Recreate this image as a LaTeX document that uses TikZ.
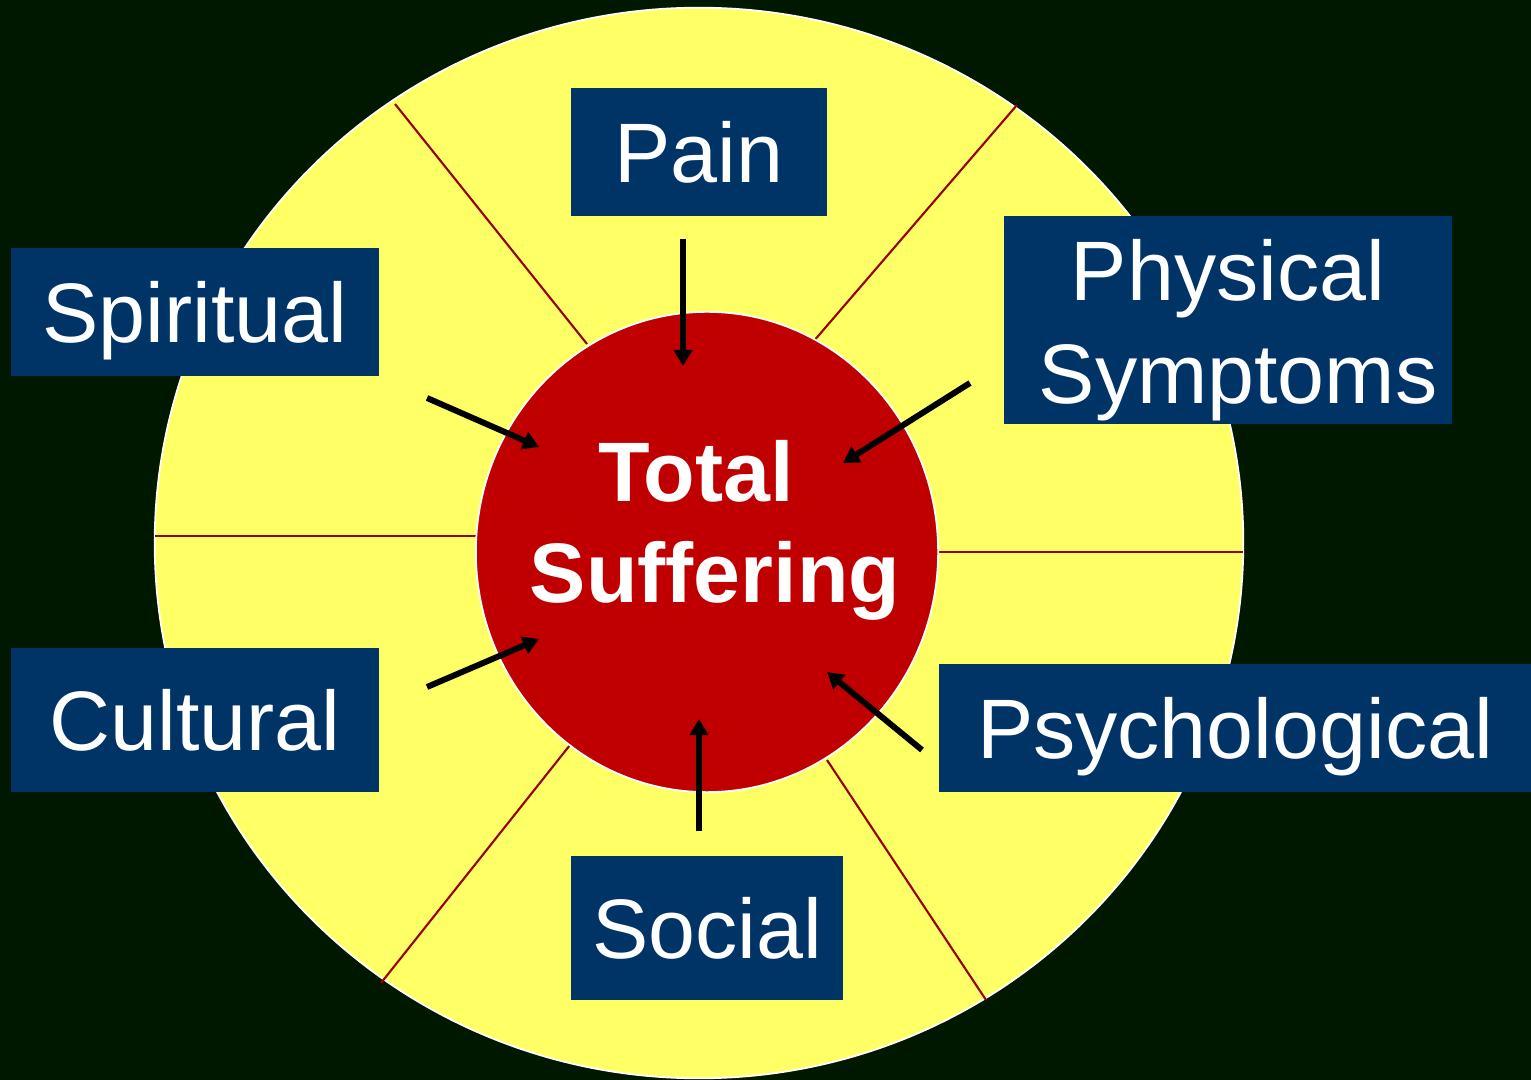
\documentclass[tikz,border=0pt]{standalone}
\usepackage{fontspec}
\setmainfont{Liberation Sans}
\usetikzlibrary{arrows.meta,positioning}
\definecolor{nightgreen}{HTML}{001800}
\definecolor{ringyellow}{HTML}{FFFF66}
\definecolor{corered}{HTML}{C00000}
\definecolor{spokered}{HTML}{990000}
\definecolor{boxblue}{HTML}{003366}

\begin{document}
\begin{tikzpicture}[x=.01cm,y=-.01cm,
 facet/.style={fill=boxblue,text=white,inner sep=0pt,align=center,
  font=\fontsize{24pt}{29.3pt}\selectfont},
 oneline/.style={text height=17.5pt,text depth=0pt},
 push/.style={line width=1.7pt,-{Triangle[length=.16cm,width=.18cm]}}]
\fill[nightgreen] (0,0) rectangle (1531,1080);
\useasboundingbox (0,0) rectangle (1531,1080);
% outer ring and spokes
\filldraw[fill=ringyellow,draw=white,line width=.5pt] (699,543) ellipse [x radius=5.44cm,y radius=5.35cm];
\foreach \ax/\ay/\bx/\by in {587/344/395/104,813/342/1017/105,476/536/155/536,
 938/552/1243/552,570/745/381/983,827/760/986/1000}
 \draw[spokered,line width=.6pt] (\ax,\ay) -- (\bx,\by);
\filldraw[fill=corered,draw=white,line width=.5pt] (707,552) ellipse [x radius=2.31cm,y radius=2.40cm];
\node[text=white,align=center,font=\bfseries\fontsize{24pt}{28.7pt}\selectfont] (total) at (715,530) {Total\hspace*{.38cm}\\Suffering};
% the six boxes
\node[facet,oneline,minimum width=2.56cm,minimum height=1.28cm] (pain) at (699,152) {Pain};
\node[facet,minimum width=4.48cm,minimum height=2.07cm] (physical) at (1228,320) {\rule{0pt}{23pt}Physical\\\hspace*{.2cm}Symptoms};
\node[facet,oneline,minimum width=3.68cm,minimum height=1.27cm] (spiritual) at (195,312) {Spiritual};
\node[facet,oneline,minimum width=3.68cm,minimum height=1.43cm] (cultural) at (195,720) {Cultural};
\node[facet,oneline,minimum width=5.92cm,minimum height=1.27cm] (psych) at (1235,728) {Psychological};
\node[facet,oneline,minimum width=2.72cm,minimum height=1.44cm] (social) at (707,928) {Social};
% arrows into the core
\foreach \n/\tx/\ty/\hx/\hy in {pain/683/239/683/366,physical/970/383/843/463,
 spiritual/427/398/539/447,cultural/427/687/539/639,psych/922/750/827/672,social/699/831/699/719} {
 \coordinate (\n-t) at (\tx,\ty);
 \coordinate (\n-h) at (\hx,\hy);
 \draw[push] (\n-t) -- (\n-h);}
\end{tikzpicture}
\end{document}
